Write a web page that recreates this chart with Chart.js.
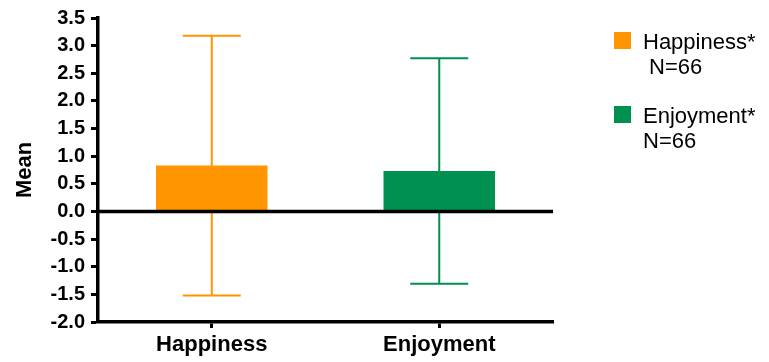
<!DOCTYPE html>
<html>
<head>
<meta charset="utf-8">
<script src="https://cdn.jsdelivr.net/npm/chart.js@4.4.1/dist/chart.umd.min.js"></script>
<style>
  html, body { margin: 0; padding: 0; background: #fff; }
  #wrap { width: 769px; height: 362px; }
</style>
</head>
<body>
<div id="wrap"><canvas id="c" width="769" height="362"></canvas></div>
<script>
// Group means with standard deviations (whiskers = mean ± SD)
const categories = ['Happiness', 'Enjoyment'];
const means = [0.83, 0.73];
const sds = [2.35, 2.04];
const colors = ['#FF9500', '#00904F'];
const legendLines = [['Happiness*', ' N=66'], ['Enjoyment*', 'N=66']];
const yTicks = [-2.0, -1.5, -1.0, -0.5, 0.0, 0.5, 1.0, 1.5, 2.0, 2.5, 3.0, 3.5];

const FONT = '"Liberation Sans", Arial, Helvetica, sans-serif';

// Whiskers with caps, drawn through the scales
const errorBars = {
  id: 'errorBars',
  afterDatasetsDraw(chart) {
    const { ctx, scales: { x, y } } = chart;
    ctx.save();
    ctx.lineWidth = 2;
    means.forEach((m, i) => {
      const cx = x.getPixelForValue(i);
      const yHi = y.getPixelForValue(m + sds[i]);
      const yLo = y.getPixelForValue(m - sds[i]);
      const cap = 29;
      ctx.strokeStyle = colors[i];
      ctx.beginPath();
      ctx.moveTo(cx, yHi); ctx.lineTo(cx, yLo);
      ctx.moveTo(cx - cap, yHi); ctx.lineTo(cx + cap, yHi);
      ctx.moveTo(cx - cap, yLo); ctx.lineTo(cx + cap, yLo);
      ctx.stroke();
    });
    // baseline at zero
    const y0 = y.getPixelForValue(0);
    ctx.strokeStyle = '#000';
    ctx.lineWidth = 3.5;
    ctx.beginPath();
    ctx.moveTo(chart.chartArea.left, y0);
    ctx.lineTo(chart.chartArea.right, y0);
    ctx.stroke();
    ctx.restore();
  }
};

// Legend box at the right with two-line entries
const sideLegend = {
  id: 'sideLegend',
  afterDraw(chart) {
    const { ctx } = chart;
    ctx.save();
    ctx.font = '22px ' + FONT;
    ctx.textBaseline = 'alphabetic';
    const rows = [32, 106];
    rows.forEach((top, i) => {
      ctx.fillStyle = colors[i];
      ctx.fillRect(614, top, 17, 17);
      ctx.fillStyle = '#000';
      ctx.fillText(legendLines[i][0], 643, top + 17);
      ctx.fillText(legendLines[i][1], 643, top + 42);
    });
    ctx.restore();
  }
};

new Chart(document.getElementById('c'), {
  type: 'bar',
  data: {
    labels: categories,
    datasets: [{
      data: means,
      backgroundColor: colors,
      borderWidth: 0,
      categoryPercentage: 1.0,
      barPercentage: 0.49
    }]
  },
  options: {
    responsive: false,
    animation: false,
    events: [],
    layout: { padding: { left: 0, top: 18, right: 216, bottom: 0 } },
    plugins: { legend: { display: false }, tooltip: { enabled: false } },
    scales: {
      x: {
        grid: {
          display: true, drawOnChartArea: false, offset: false,
          tickLength: 6, tickWidth: 3, tickColor: '#000'
        },
        border: { display: true, color: '#000', width: 3.5 },
        ticks: { color: '#000', padding: 4, font: { family: FONT, size: 22, weight: 'bold' } },
        afterFit(s) { s.height = 40; }
      },
      y: {
        min: -2.0,
        max: 3.5,
        afterBuildTicks(s) { s.ticks = yTicks.map(v => ({ value: v })); },
        grid: {
          display: true, drawOnChartArea: false,
          tickLength: 7, tickWidth: 3, tickColor: '#000'
        },
        border: { display: true, color: '#000', width: 3.5 },
        ticks: {
          color: '#000', padding: 6,
          font: { family: FONT, size: 20, weight: 'bold' },
          callback: v => Number(v).toFixed(1)
        },
        title: {
          display: true, text: 'Mean', color: '#000', padding: { top: 12, bottom: 0 },
          font: { family: FONT, size: 22, weight: 'bold' }
        },
        afterFit(s) { s.width = 98; }
      }
    }
  },
  plugins: [errorBars, sideLegend]
});
</script>
</body>
</html>
